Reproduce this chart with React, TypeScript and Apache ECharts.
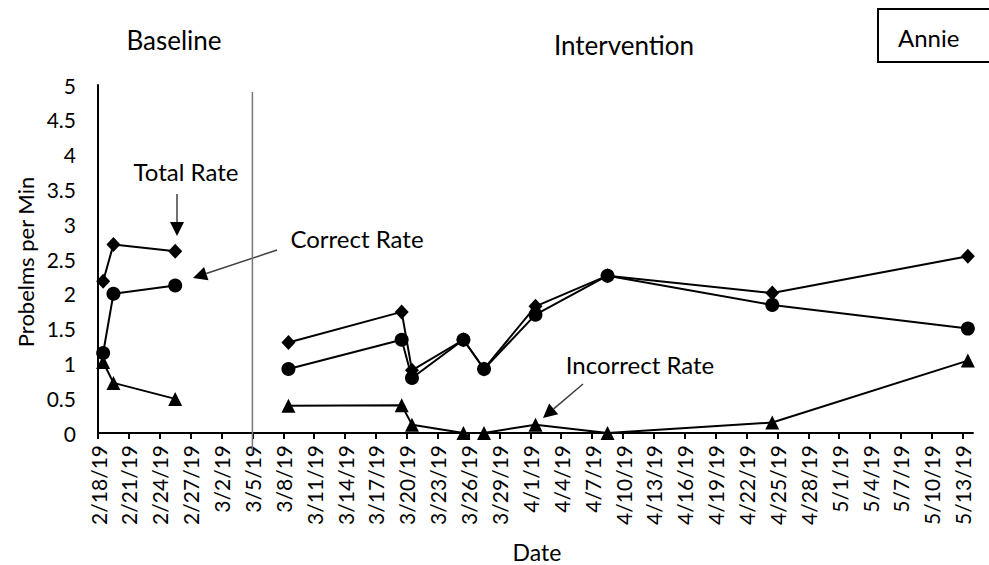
import React, { useEffect, useRef } from "react";
import * as echarts from "echarts";

const baselineDates = ["2/18/19", "2/19/19", "2/25/19"];
const interventionDates = ["3/8/19", "3/19/19", "3/20/19", "3/25/19", "3/27/19", "4/1/19", "4/8/19", "4/24/19", "5/13/19"];

const totalBaseline = [2.18, 2.71, 2.61];
const correctBaseline = [1.15, 2.0, 2.12];
const incorrectBaseline = [1.02, 0.72, 0.49];

const totalIntervention = [1.3, 1.74, 0.9, 1.34, 0.92, 1.82, 2.26, 2.01, 2.54];
const correctIntervention = [0.92, 1.34, 0.79, 1.34, 0.92, 1.7, 2.26, 1.84, 1.5];
const incorrectIntervention = [0.39, 0.4, 0.12, 0, 0, 0.12, 0, 0.15, 1.04];

const startDate = "2/18/19";
const endDate = "5/14/19";
const phaseChangeDate = "3/5/19";
const tickStepDays = 3;
const yTicks = [0, 0.5, 1, 1.5, 2, 2.5, 3, 3.5, 4, 4.5, 5];

const FONT = "Lato, 'Open Sans', sans-serif";
const DAY = 86400000;

function parseDate(s: string): number {
  const [m, d, y] = s.split("/").map(Number);
  return Date.UTC(2000 + y, m - 1, d);
}
const t0 = parseDate(startDate);
function dayIndex(s: string): number {
  return Math.round((parseDate(s) - t0) / DAY);
}
function fmtDay(v: number): string {
  const dt = new Date(t0 + Math.round(v) * DAY);
  return `${dt.getUTCMonth() + 1}/${dt.getUTCDate()}/${String(dt.getUTCFullYear()).slice(2)}`;
}
function pts(dates: string[], vals: number[]) {
  // Excel date axis places each day's point in the middle of the day slot
  return dates.map((d, i) => [dayIndex(d) + 0.5, vals[i]]);
}

const maxDay = dayIndex(endDate);
const tickDays: number[] = [];
for (let d = 0; d < maxDay; d += tickStepDays) tickDays.push(d);

export default function App() {
  const ref = useRef<HTMLDivElement>(null);
  useEffect(() => {
    if (!ref.current) return;
    const chart = echarts.init(ref.current, undefined, { renderer: "svg" });
    const lineStyle = { color: "#000", width: 2 };
    const mk = (name: string, data: number[][], symbol: string, size: any) => ({
      name,
      type: "line",
      data,
      symbol,
      symbolSize: size,
      showAllSymbol: true,
      lineStyle,
      itemStyle: { color: "#000", borderWidth: 0 },
      emphasis: { disabled: true },
      z: symbol === "circle" ? 3 : 2,
    });
    chart.setOption({
      animation: false,
      grid: { left: 98, right: 16, top: 85, bottom: 132 },
      xAxis: {
        type: "value",
        min: 0,
        max: maxDay,
        interval: tickStepDays,
        axisLine: { show: true, onZero: false, lineStyle: { color: "#000", width: 2 } },
        axisTick: { show: true, length: 6, lineStyle: { color: "#000", width: 2 }, customValues: tickDays },
        axisLabel: {
          rotate: 90,
          margin: 12,
          fontFamily: FONT,
          fontSize: 21,
          color: "#000",
          customValues: tickDays,
          formatter: (v: number) => fmtDay(v),
        },
        splitLine: { show: false },
      },
      yAxis: {
        type: "value",
        min: 0,
        max: 5,
        interval: 0.5,
        axisLine: { show: true, lineStyle: { color: "#000", width: 2 } },
        axisTick: { show: false },
        axisLabel: {
          margin: 22,
          fontFamily: FONT,
          fontSize: 21,
          color: "#000",
          customValues: yTicks,
          formatter: (v: number) => String(v),
        },
        splitLine: { show: false },
      },
      series: [
        mk("Total Rate", pts(baselineDates, totalBaseline), "diamond", [14, 15]),
        mk("Correct Rate", pts(baselineDates, correctBaseline), "circle", 14),
        mk("Incorrect Rate", pts(baselineDates, incorrectBaseline), "triangle", 14),
        mk("Total Rate ", pts(interventionDates, totalIntervention), "diamond", [14, 15]),
        mk("Correct Rate ", pts(interventionDates, correctIntervention), "circle", 14),
        mk("Incorrect Rate ", pts(interventionDates, incorrectIntervention), "triangle", 14),
      ],
    });

    const phaseX = chart.convertToPixel({ xAxisIndex: 0 }, dayIndex(phaseChangeDate)) as number;
    const arrowColor = "#404040";
    const arrow = (x1: number, y1: number, x2: number, y2: number) => {
      const ang = Math.atan2(y2 - y1, x2 - x1);
      const hl = 14, hw = 7;
      const bx = x2 - hl * Math.cos(ang), by = y2 - hl * Math.sin(ang);
      const px = -Math.sin(ang) * hw, py = Math.cos(ang) * hw;
      return [
        { type: "line", shape: { x1, y1, x2: bx, y2: by }, style: { stroke: arrowColor, lineWidth: 1.5 } },
        { type: "polygon", shape: { points: [[x2, y2], [bx + px, by + py], [bx - px, by - py]] }, style: { fill: "#000" } },
      ];
    };
    const txt = (text: string, x: number, y: number, size: number, align = "center", rotation = 0) => ({
      type: "text",
      x,
      y,
      rotation,
      style: { text, fill: "#000", font: `${size}px ${FONT}`, textAlign: align, textVerticalAlign: "middle" },
    });
    chart.setOption({
      graphic: [
        { type: "line", shape: { x1: phaseX, y1: 92, x2: phaseX, y2: 453 }, style: { stroke: "#777", lineWidth: 1.5 }, z: 1 },
        txt("Baseline", 174, 40, 26),
        txt("Intervention", 624, 45, 26),
        { type: "rect", shape: { x: 878, y: 9, width: 120, height: 53 }, style: { fill: "#fff", stroke: "#000", lineWidth: 2 } },
        txt("Annie", 898, 37, 24, "left"),
        txt("Total Rate", 186, 171, 24),
        ...arrow(177, 194, 177, 236),
        txt("Correct Rate", 357, 238, 24),
        ...arrow(277, 250, 193, 278),
        txt("Incorrect Rate", 640, 364, 24),
        ...arrow(583, 384, 543, 418),
        txt("Probelms per Min", 25, 262, 22, "center", Math.PI / 2),
        txt("Date", 537, 552, 23),
      ],
    });
    return () => chart.dispose();
  }, []);
  return <div ref={ref} style={{ width: 989, height: 565, position: "absolute", left: 0, top: 0 }} />;
}
